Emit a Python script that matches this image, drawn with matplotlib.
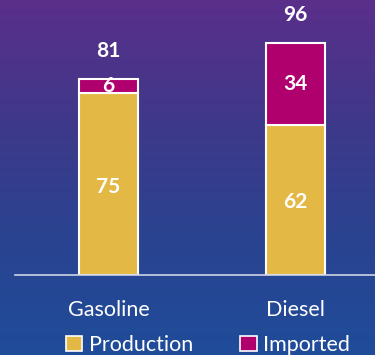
import numpy as np
import matplotlib.pyplot as plt
from matplotlib.colors import LinearSegmentedColormap
from matplotlib.patches import Patch

plt.rcParams['font.family'] = ['Lato', 'DejaVu Sans']

# Data
categories = ['Gasoline', 'Diesel']
production = [75, 62]
imported = [6, 34]
totals = [81, 96]

gold = '#E4B844'
magenta = '#B0006E'

fig = plt.figure(figsize=(3.75, 3.55), dpi=100)

# gradient background (purple top -> blue bottom)
bg = fig.add_axes([0, 0, 1, 1], zorder=0)
cmap = LinearSegmentedColormap.from_list('bg', ['#5A2F8A', '#40388A', '#2A4390', '#1F4C9A'])
grad = np.linspace(0, 1, 256).reshape(-1, 1)
bg.imshow(grad, aspect='auto', cmap=cmap, extent=[0, 1, 0, 1], origin='upper')
bg.axis('off')

ax = fig.add_axes([0.04, 0.2254, 0.96, 0.7746], zorder=1)
ax.patch.set_alpha(0)
x = np.arange(len(categories))
w = 0.315

ax.bar(x, production, w, color=gold, edgecolor='white', linewidth=1.5, label='Production')
ax.bar(x, imported, w, bottom=production, color=magenta, edgecolor='white', linewidth=1.5, label='Imported')

for i in range(len(categories)):
    ax.text(x[i], production[i] / 2 - 1, str(production[i]), ha='center', va='center',
            color='white', fontsize=15, fontweight='bold')
    ax.text(x[i], production[i] + imported[i] / 2, str(imported[i]), ha='center', va='center',
            color='white', fontsize=15, fontweight='bold')
    ax.text(x[i], totals[i] + 11.5, str(totals[i]), ha='center', va='center',
            color='white', fontsize=15, fontweight='bold')

ax.set_xlim(-0.5, 1.425)
ax.set_ylim(0, 113.6)
ax.set_yticks([])
for s in ['top', 'right', 'left']:
    ax.spines[s].set_visible(False)
ax.spines['bottom'].set_color('#D0D4E4')
ax.spines['bottom'].set_linewidth(1.2)
ax.set_xticks(x)
ax.set_xticklabels(categories, color='white', fontsize=15.5)
ax.tick_params(axis='x', length=0, pad=18)

handles = [Patch(facecolor=gold, edgecolor='white', linewidth=1.2),
           Patch(facecolor=magenta, edgecolor='white', linewidth=1.2)]
leg = fig.legend(handles, ['Production', 'Imported'], loc='center', bbox_to_anchor=(0.555, 0.028),
                 ncol=2, frameon=False, fontsize=15.5, handlelength=0.75, handleheight=0.75,
                 handletextpad=0.3, columnspacing=2.2)
for t in leg.get_texts():
    t.set_color('white')

fig.savefig('out.png', dpi=100)
